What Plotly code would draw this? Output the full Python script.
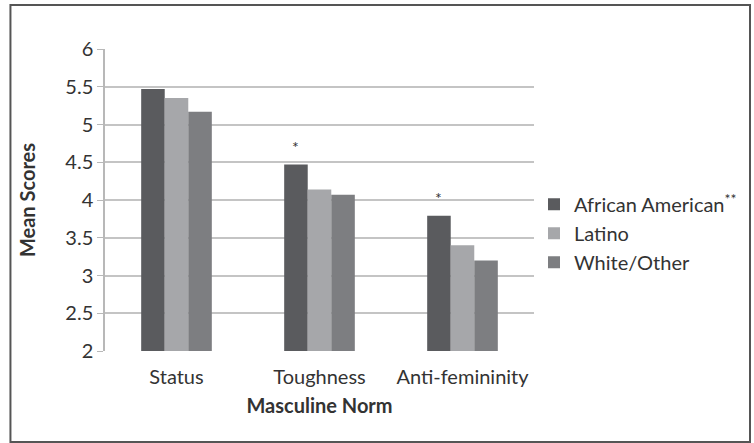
import plotly.graph_objects as go

categories = ["Status", "Toughness", "Anti-femininity"]
african_american = [5.47, 4.47, 3.79]
latino = [5.35, 4.14, 3.40]
white_other = [5.17, 4.07, 3.20]
series_names = ["African American<sup>**</sup>", "Latino", "White/Other"]
series_colors = ["#5a5b5e", "#a6a7aa", "#7d7e81"]
y_ticks = [2, 2.5, 3, 3.5, 4, 4.5, 5, 5.5, 6]
y_tick_labels = ["2", "2.5", "3", "3.5", "4", "4.5", "5", "5.5", "6"]
starred = ["Toughness", "Anti-femininity"]

FONT = "Lato, 'Open Sans', sans-serif"
fig = go.Figure()
for i, (name, vals, col) in enumerate(zip(series_names, [african_american, latino, white_other], series_colors)):
    fig.add_trace(go.Bar(x=categories, y=vals, name=name, marker=dict(color=col, line=dict(width=0)),
                         legendgroup=f"g{i}"))

bargap = 0.506
bw = (1 - bargap) / 3
for cat in starred:
    idx = categories.index(cat)
    fig.add_annotation(x=idx - bw, y=african_american[idx], yshift=18, text="*", showarrow=False,
                       xref="x", yref="y", font=dict(size=16, color="#333", family=FONT))

fig.add_shape(type="rect", xref="paper", yref="paper", x0=-0.2204, x1=1.5035, y0=-0.3013, y1=1.1457,
              line=dict(color="#555", width=2), fillcolor="rgba(0,0,0,0)", layer="below")

fig.update_layout(
    width=754, height=443,
    margin=dict(l=105, r=218, t=49, b=92),
    paper_bgcolor="white", plot_bgcolor="white",
    barmode="group", bargap=bargap, bargroupgap=0,
    font=dict(family=FONT, size=20, color="#333"),
    showlegend=True,
    legend=dict(x=1.0, y=0.39, xanchor="left", yanchor="middle", font=dict(size=20, color="#333"),
                tracegroupgap=0, itemwidth=30),
    xaxis=dict(showgrid=False, showline=False, ticks="outside", ticklen=8, tickcolor="rgba(0,0,0,0)",
               tickfont=dict(size=20),
               title=dict(text="<b>Masculine Norm</b>", font=dict(size=20), standoff=11)),
    yaxis=dict(range=[2, 6], tickvals=y_ticks, ticktext=y_tick_labels, showgrid=True,
               gridcolor="#c4c4c4", gridwidth=1.5, showline=True, linecolor="#b8b8b8", linewidth=1.5,
               ticks="outside", ticklen=6, tickcolor="#b8b8b8", tickfont=dict(size=20),
               zeroline=False,
               title=dict(text="<b>Mean Scores</b>", font=dict(size=20), standoff=24)),
)
fig.write_html("out.html", config={"displayModeBar": False},
               post_script="document.body.style.margin='0';")
